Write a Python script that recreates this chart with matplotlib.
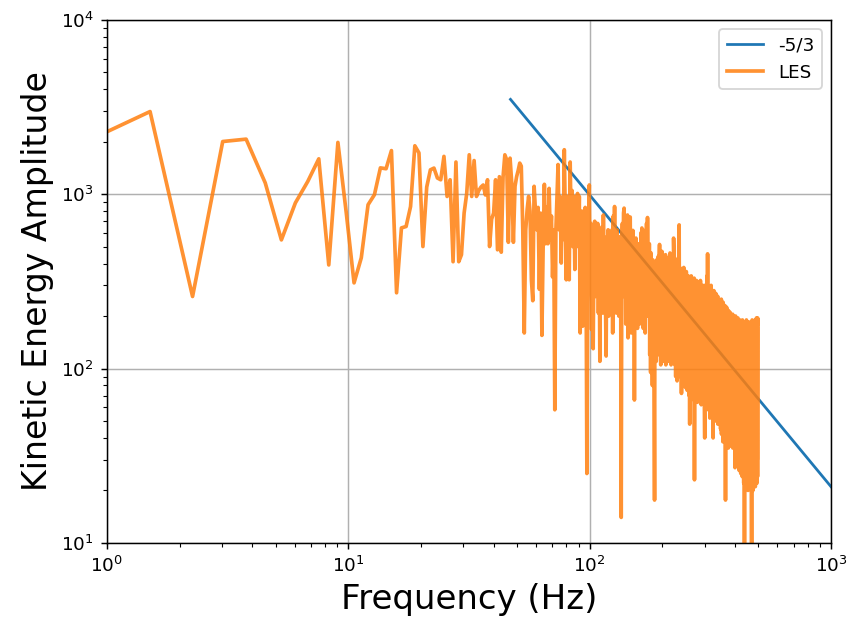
import numpy as np
import matplotlib
matplotlib.use("Agg")
import matplotlib.pyplot as plt

# spectral resolution of the LES signal (Hz per bin)
freq_step = 0.755

# kinetic energy amplitude per frequency bin, 0.76 - 56 Hz
amp_low = [
    1900, 2980, 259, 2006, 2070, 1162, 547, 892, 1183, 1596,
    393, 1982, 780, 310, 432, 870, 993, 1416, 1400, 1780,
    272, 641, 653, 850, 1896, 1726, 501, 1100, 1380, 1412,
    1239, 1210, 1648, 971, 1210, 410, 1530, 410, 450, 780,
    1010, 1683, 971, 1560, 971, 1050, 1100, 1130, 990, 1210,
    501, 720, 779, 1210, 480, 1260, 465, 1260, 1683, 1580,
    530, 1610, 1160, 530, 1110, 1260, 1370, 1508, 1450, 625,
    160, 625, 820, 971,
]

# 56 - 138 Hz
amp_mid = [
    800, 323, 245, 1110, 800, 625, 840, 285, 779, 155,
    500, 1140, 520, 840, 520, 1080, 550, 750, 335, 625,
    58, 625, 971, 1480, 625, 971, 403, 930, 550, 1800,
    779, 323, 971, 625, 323, 1530, 680, 1050, 500, 971,
    370, 900, 625, 1010, 500, 971, 160, 625, 800, 175,
    720, 500, 840, 403, 25, 259, 680, 1130, 323, 680,
    167, 625, 130, 500, 700, 259, 625, 323, 680, 208,
    625, 110, 500, 403, 650, 208, 760, 323, 550, 259,
    118, 570, 323, 625, 200, 570, 285, 500, 245, 625,
    160, 750, 323, 850, 259, 550, 208, 625, 285, 500,
    200, 570, 259, 500, 14, 403, 680, 259, 779,
]

# 139 - 500 Hz
amp_high = [
    832, 300, 700, 180, 560, 250, 760, 150, 420, 600,
    200, 740, 350, 160, 500, 220, 620, 300, 450, 66,
    400, 250, 560, 200, 480, 170, 380, 220, 520, 180,
    450, 260, 600, 190, 640, 300, 500, 170, 620, 240,
    420, 160, 560, 280, 680, 200, 735, 330, 480, 210,
    520, 120, 400, 95, 460, 150, 350, 80, 420, 200,
    300, 66, 17.6, 380, 140, 330, 110, 420, 150, 360,
    120, 440, 180, 380, 515, 130, 400, 105, 350, 200,
    470, 130, 320, 110, 420, 160, 380, 120, 300, 450,
    105, 340, 190, 430, 115, 360, 140, 300, 110, 410,
    150, 460, 125, 330, 105, 390, 170, 280, 115, 420,
    140, 560, 440, 130, 380, 105, 300, 90, 350, 120,
    400, 85, 320, 150, 430, 100, 500, 667, 140, 380,
    90, 300, 110, 340, 72, 280, 95, 360, 80, 300,
    130, 380, 85, 260, 100, 330, 78, 290, 120, 360,
    90, 310, 75, 270, 110, 340, 82, 300, 70, 250,
    48, 320, 85, 280, 66, 340, 100, 290, 75, 250,
    90, 310, 68, 270, 110, 330, 23, 260, 80, 300,
    70, 240, 95, 320, 72, 280, 64, 260, 100, 310,
    78, 240, 66, 290, 88, 250, 70, 320, 82, 270,
    62, 230, 95, 300, 74, 250, 64, 280, 86, 240,
    70, 300, 60, 40, 220, 90, 290, 70, 260, 60,
    300, 85, 340, 110, 455, 75, 280, 58, 240, 90,
    290, 65, 230, 52, 270, 80, 250, 60, 300, 72,
    220, 55, 260, 85, 240, 62, 40, 230, 70, 280,
    56, 210, 78, 250, 50, 230, 66, 270, 58, 200,
    82, 240, 52, 220, 70, 260, 48, 210, 64, 240,
    55, 200, 75, 230, 50, 190, 68, 240, 45, 210,
    60, 250, 42, 190, 70, 230, 48, 200, 38, 240,
    55, 180, 44, 220, 62, 195, 40, 230, 50, 170,
    17.6, 210, 46, 185, 58, 225, 40, 175, 52, 205,
    38, 190, 60, 35, 215, 45, 180, 55, 200, 40,
    170, 48, 210, 36, 185, 58, 200, 42, 165, 50,
    195, 38, 175, 56, 205, 35, 180, 46, 160, 40,
    200, 52, 170, 37, 190, 44, 27, 175, 55, 200,
    36, 165, 48, 190, 34, 170, 50,
    185, 32, 160, 45, 195, 28, 170, 40, 150, 35,
    180, 26, 165, 42, 190, 30, 155, 38, 175, 25,
    160, 44, 185, 30, 150, 36, 170, 24, 190, 33,
    155, 40, 175, 28, 165, 22, 180, 34, 150, 6,
    170, 30, 185, 26, 155, 38, 175, 24, 160, 32,
    190, 27, 150, 36, 170, 22, 180, 29, 155, 20,
    165, 33, 185, 25, 150, 28, 175, 22, 160, 35,
    180, 24, 155, 30, 170, 21, 185, 27, 160, 26,
    6, 175, 23, 190, 30, 155, 25, 170, 20, 180,
    28, 150, 34, 185, 24, 160, 22, 175, 30, 165,
    26, 190, 21, 155, 32, 180, 25, 170, 23, 195,
    28, 160, 22, 185, 30, 175, 24, 195, 180,
]

# -5/3 reference slope, end points
slope_freq = [47, 1000]
slope_amp = [3500, 21]

les_amp = np.array(amp_low + amp_mid + amp_high)
les_freq = freq_step * np.arange(1, len(les_amp) + 1)

fig = plt.figure(figsize=(6.4, 4.71), dpi=132.5)
ax = fig.add_axes([0.126, 0.130, 0.854, 0.838])

ax.loglog(slope_freq, slope_amp, label='-5/3')
ax.loglog(les_freq, les_amp, lw=2, alpha=0.85, label='LES')

ax.set_xlim(1, 1000)
ax.set_ylim(10, 1e4)
ax.grid(True)
ax.set_xlabel('Frequency (Hz)', fontsize=18.5)
ax.set_ylabel('Kinetic Energy Amplitude', fontsize=18)
ax.legend(loc='upper right')

fig.savefig('out.png', dpi=132.5)
